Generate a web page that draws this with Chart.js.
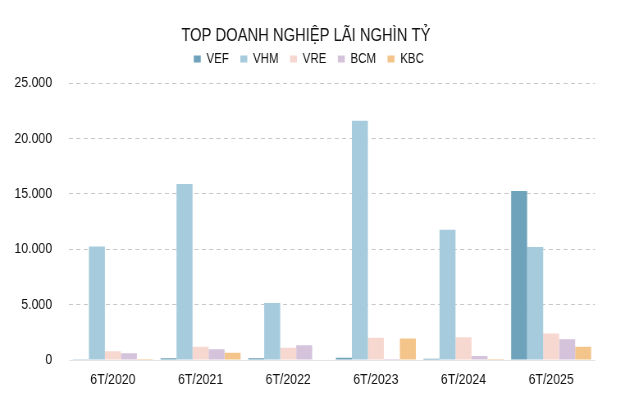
<!DOCTYPE html>
<html>
<head>
    <title>Top doanh nghiệp lãi nghìn tỷ</title>
    <script src="https://cdn.jsdelivr.net/npm/chart.js"></script>
    <style>
        body {
            margin: 0;
            padding: 0;
            background-color: #fff;
            overflow: hidden;
        }
        #wrap {
            width: 634px;
            height: 397px;
            overflow: hidden;
        }
        /* narrow font look: draw wider, then squeeze horizontally */
        #profitChart {
            transform: scaleX(0.8202);
            transform-origin: 0 0;
        }
    </style>
</head>
<body>

<div id="wrap">
    <canvas id="profitChart" width="773" height="397" style="width:773px;height:397px"></canvas>
</div>

<script>
    const periods = ['6T/2020', '6T/2021', '6T/2022', '6T/2023', '6T/2024', '6T/2025'];
    const vef = [60, 150, 150, 200, 120, 15250];
    const vhm = [10250, 15900, 5150, 21600, 11750, 10200];
    const vre = [800, 1200, 1100, 2000, 2050, 2400];
    const bcm = [600, 970, 1330, 100, 360, 1870];
    const kbc = [80, 660, 50, 1930, 100, 1200];
    const yTicks = [0, 5000, 10000, 15000, 20000, 25000];

    const fontFamily = "'Liberation Sans', Arial, sans-serif";

    function series(label, data, color) {
        return {
            label: label,
            data: data,
            backgroundColor: color,
            borderWidth: 0,
            categoryPercentage: 0.913,
            barPercentage: 1.0
        };
    }

    // extra room under the legend, and nudge title/legend to the right
    const headerTweak = {
        id: 'headerTweak',
        beforeInit(chart) {
            const fit = chart.legend.fit;
            chart.legend.fit = function () {
                fit.call(this);
                this.height += 7;
            };
        },
        afterLayout(chart) {
            chart.legend.left += 13.8;
            chart.legend.right += 13.8;
            chart.titleBlock.left += 10.3;
            chart.titleBlock.right += 10.3;
        }
    };

    const ctx = document.getElementById('profitChart').getContext('2d');
    const profitChart = new Chart(ctx, {
        type: 'bar',
        data: {
            labels: periods,
            datasets: [
                series('VEF', vef, '#6fa3bb'),
                series('VHM', vhm, '#a5cbdd'),
                series('VRE', vre, '#f7d8d0'),
                series('BCM', bcm, '#d5c3dc'),
                series('KBC', kbc, '#f4c58b')
            ]
        },
        plugins: [headerTweak],
        options: {
            responsive: false,
            animation: false,
            layout: {
                padding: { left: 0, right: 47.6, top: 14, bottom: 0 }
            },
            plugins: {
                title: {
                    display: true,
                    text: 'TOP DOANH NGHIỆP LÃI NGHÌN TỶ',
                    color: '#111',
                    font: { family: fontFamily, size: 18, weight: 'normal' },
                    padding: { top: 11, bottom: -8.5 }
                },
                legend: {
                    display: true,
                    labels: {
                        color: '#111',
                        font: { family: fontFamily, size: 14 },
                        boxWidth: 8.5,
                        boxHeight: 7,
                        padding: 14
                    }
                },
                tooltip: { enabled: false }
            },
            scales: {
                x: {
                    grid: { display: false, drawTicks: false },
                    border: { display: true, color: '#e4e4e4', width: 1 },
                    ticks: {
                        color: '#111',
                        font: { family: fontFamily, size: 15 },
                        padding: 11
                    },
                    afterFit: function (scale) { scale.height = 37; }
                },
                y: {
                    min: 0,
                    max: 25000,
                    afterBuildTicks: function (scale) {
                        scale.ticks = yTicks.map(v => ({ value: v }));
                    },
                    grid: {
                        color: function (c) { return c.tick.value === 0 ? 'rgba(0,0,0,0)' : '#c8c8c8'; },
                        drawTicks: false
                    },
                    border: { display: false, dash: [5, 4] },
                    ticks: {
                        color: '#111',
                        font: { family: fontFamily, size: 15 },
                        padding: 20.7,
                        callback: function (v) {
                            return v.toString().replace(/\B(?=(\d{3})+(?!\d))/g, '.');
                        }
                    },
                    afterFit: function (scale) { scale.width = 84.2; }
                }
            }
        }
    });
</script>

</body>
</html>
